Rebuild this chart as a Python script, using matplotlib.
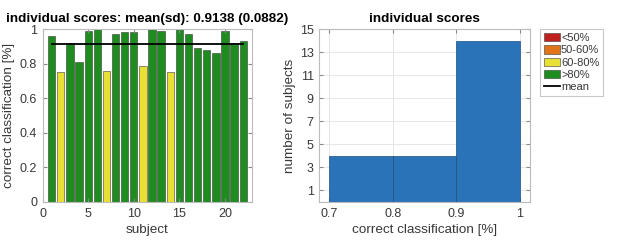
import numpy as np
import matplotlib
matplotlib.use("Agg")
import matplotlib.pyplot as plt
from matplotlib.patches import Patch
from matplotlib.lines import Line2D

plt.rcParams['font.family'] = ['Liberation Sans', 'DejaVu Sans']

# per-subject classification scores
subjects = np.arange(1, 23)
scores = [0.96, 0.75, 0.92, 0.81, 0.99, 1.0, 0.76, 0.97, 0.98, 0.985, 0.785,
          1.0, 0.99, 0.75, 1.0, 0.97, 0.89, 0.88, 0.86, 0.99, 0.92, 0.93]
mean_txt = "0.9138"
sd_txt = "0.0882"
hist_edges = [0.7, 0.8, 0.9, 1.0]
yticks_hist = [1, 3, 5, 7, 9, 11, 13, 15]

# category colours
cat_labels = ['<50%', '50-60%', '60-80%', '>80%']
cat_colors = ['#C0201E', '#E0741A', '#E8E034', '#1E8C1E']
cat_edges = [0.5, 0.6, 0.8]

TXT = '#383838'
SPINE = '#BBBBBB'


def color_for(s):
    return cat_colors[int(np.searchsorted(cat_edges, s, side='right'))]


def style_axes(ax):
    for sp in ax.spines.values():
        sp.set_color(SPINE)
        sp.set_linewidth(0.8)
    ax.tick_params(direction='in', length=3, color='#888888', labelcolor=TXT,
                   labelsize=9, pad=4, top=True, right=True,
                   labeltop=False, labelright=False)


fig = plt.figure(figsize=(6.17, 2.5), dpi=100)

# --- left: bar chart ---
ax1 = fig.add_axes([0.069, 0.192, 0.340, 0.692])
colors = [color_for(s) for s in scores]
ax1.bar(subjects, scores, width=0.8, color=colors, edgecolor='#3a3a3a', linewidth=0.4)
ax1.plot([subjects[0], subjects[-1]], [float(mean_txt)] * 2, color='black', lw=1.3)
ax1.set_xlim(0, 23)
ax1.set_ylim(0, 1)
ax1.set_xticks([0, 5, 10, 15, 20])
ax1.set_yticks([0, 0.2, 0.4, 0.6, 0.8, 1])
ax1.set_yticklabels(['0', '0.2', '0.4', '0.6', '0.8', '1'])
style_axes(ax1)
ax1.set_xlabel('subject', fontsize=9.7, color=TXT, labelpad=3)
ax1.set_ylabel('correct classification [%]', fontsize=9.7, color=TXT, labelpad=3)
ax1.set_title(f'individual scores: mean(sd): {mean_txt} ({sd_txt})',
              fontsize=9.7, fontweight='bold', color='black', pad=5)

# --- right: histogram ---
ax2 = fig.add_axes([0.5175, 0.192, 0.3415, 0.692])
ax2.hist(scores, bins=hist_edges, color='#2B73B8', edgecolor='#1f4f80', linewidth=0.5,
         zorder=2)
ax2.set_xlim(0.684, 1.016)
ax2.set_ylim(0, 15)
ax2.set_xticks([0.7, 0.8, 0.9, 1.0])
ax2.set_xticklabels(['0.7', '0.8', '0.9', '1'])
ax2.set_yticks(yticks_hist)
ax2.grid(True, color='#E6E6E6', linewidth=0.7, zorder=0)
ax2.set_axisbelow(True)
style_axes(ax2)
ax2.set_xlabel('correct classification [%]', fontsize=9.7, color=TXT, labelpad=3)
ax2.set_ylabel('number of subjects', fontsize=9.7, color=TXT, labelpad=3)
ax2.set_title('individual scores', fontsize=9.7, fontweight='bold', color='black', pad=5)

handles = [Patch(facecolor=c, edgecolor='#3a3a3a', linewidth=0.4) for c in cat_colors]
handles.append(Line2D([], [], color='black', lw=1.3))
leg = fig.legend(handles, cat_labels + ['mean'], loc='upper left',
                 bbox_to_anchor=(0.876, 0.884), fontsize=8, frameon=True,
                 fancybox=False, edgecolor=SPINE, handlelength=1.4, handleheight=0.8,
                 handletextpad=0.1, labelspacing=0.2, borderpad=0.35, borderaxespad=0)
leg.get_frame().set_linewidth(0.8)
for t in leg.get_texts():
    t.set_color(TXT)

fig.savefig('out.png', dpi=100)
